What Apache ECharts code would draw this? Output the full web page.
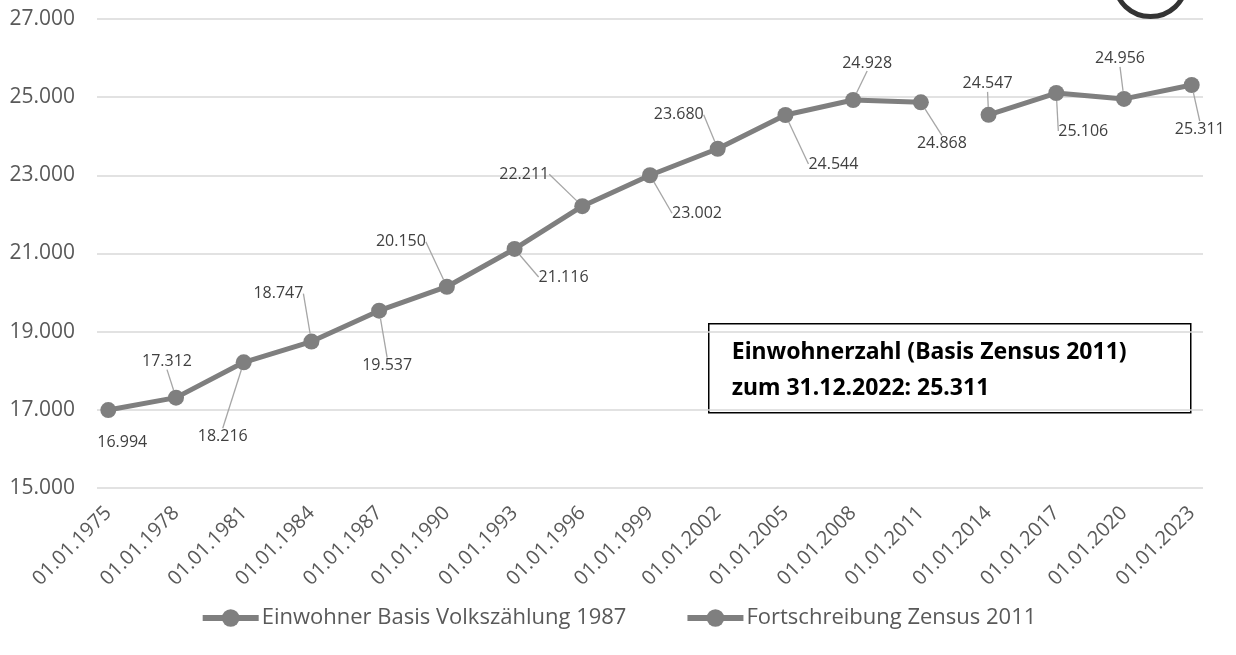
<!DOCTYPE html>
<html>
<head>
<meta charset="utf-8">
<script src="https://cdn.jsdelivr.net/npm/echarts@6/dist/echarts.min.js"></script>
<style>
	html, body { margin: 0; padding: 0; background: #fff; }
	#chart { width: 1236px; height: 655px; }
</style>
</head>
<body>
<div id="chart"></div>
<script>
	// Stichtage (jeweils 01.01.)
	var years1 = [1975, 1978, 1981, 1984, 1987, 1990, 1993, 1996, 1999, 2002, 2005, 2008, 2011];
	var years2 = [2014, 2017, 2020, 2023];
	var tickYears = [1975, 1978, 1981, 1984, 1987, 1990, 1993, 1996, 1999, 2002, 2005, 2008, 2011, 2014, 2017, 2020, 2023];

	// Einwohner
	var values1 = [16994, 17312, 18216, 18747, 19537, 20150, 21116, 22211, 23002, 23680, 24544, 24928, 24868];
	var values2 = [24547, 25106, 24956, 25311];

	var seriesNames = ['Einwohner Basis Volkszählung 1987', 'Fortschreibung Zensus 2011'];
	var boxLines = ['Einwohnerzahl (Basis Zensus 2011)', 'zum 31.12.2022: 25.311'];

	// Verschiebung der Beschriftungen (px) relativ zum Punkt
	var labelOffsets1 = [[14, 32], [-9, -36], [-21, 74], [-33, -48], [8, 55], [-46, -45], [49, 28], [-58, -32], [47, 38], [-39, -34], [48, 49], [14, -37], [21, 41]];
	var labelOffsets2 = [[-1, -31], [27, 38], [-4, -40], [8, 44]];
	// Beschriftungen ohne Führungslinie
	var noLeader1 = [0];
	var noLeader2 = [];

	var fmt = function(v) {
		return String(v).replace(/\B(?=(\d{3})+(?!\d))/g, '.');
	};
	var pairs = function(xs, ys, noLeader) {
		var out = [];
		for(var i = 0; i < xs.length; i++) {
			var item = { value: [xs[i], ys[i]] };
			if(noLeader.indexOf(i) > -1) {
				item.labelLine = { show: false };
			}
			out.push(item);
		}
		return out;
	};

	var grey = '#7f7f7f';
	var font = '"Open Sans", sans-serif';

	var lineSeries = function(name, data, offsets) {
		return {
			name: name,
			type: 'line',
			data: data,
			symbol: 'circle',
			symbolSize: 16,
			lineStyle: { color: grey, width: 5 },
			itemStyle: { color: grey },
			label: {
				show: true,
				position: 'inside',
				fontFamily: font,
				fontSize: 16,
				color: '#404040',
				formatter: function(p) { return fmt(p.value[1]); }
			},
			labelLine: {
				show: true,
				lineStyle: { color: '#a6a6a6', width: 1.3 }
			},
			labelLayout: function(p) {
				var o = offsets[p.dataIndex];
				return { dx: o[0], dy: o[1] };
			}
		};
	};

	var myChart = echarts.init(document.getElementById('chart'));

	var option = {
		animation: false,
		backgroundColor: '#fff',
		grid: { left: 97, right: 33, top: 19, bottom: 167 },
		legend: {
			top: 602,
			left: 'center',
			itemWidth: 56,
			itemHeight: 22,
			itemGap: 58,
			lineStyle: { width: 6, color: grey },
			textStyle: { fontFamily: font, fontSize: 22, color: '#595959', padding: [0, 0, 0, -2] },
			data: seriesNames
		},
		xAxis: {
			type: 'value',
			min: 1974.5,
			max: 2023.5,
			axisLine: { show: false },
			axisTick: { show: false },
			splitLine: { show: false },
			axisLabel: {
				customValues: tickYears,
				rotate: 45,
				margin: 22,
				fontFamily: font,
				fontSize: 20,
				color: '#595959',
				formatter: function(v) { return '01.01.' + v; }
			}
		},
		yAxis: {
			type: 'value',
			min: 15000,
			max: 27000,
			interval: 2000,
			axisLine: { show: false },
			axisTick: { show: false },
			splitLine: { lineStyle: { color: '#d9d9d9', width: 1.5 } },
			axisLabel: {
				margin: 22,
				fontFamily: font,
				fontSize: 21,
				color: '#595959',
				formatter: function(v) { return fmt(v); }
			}
		},
		graphic: [{
			type: 'ellipse',
			left: 1113,
			top: -52,
			shape: { cx: 35, cy: 33, rx: 35, ry: 33 },
			style: { fill: 'none', stroke: '#333', lineWidth: 5 },
			z: 10
		}, {
			type: 'group',
			left: 708,
			top: 323,
			z: 20,
			children: [{
				type: 'rect',
				shape: { x: 0, y: 0, width: 482, height: 89 },
				style: { fill: '#fff', stroke: '#000', lineWidth: 1.5 }
			}, {
				type: 'text',
				x: 23,
				y: 11,
				style: {
					text: boxLines.join('\n'),
					fontFamily: '"Noto Sans", sans-serif',
					fontWeight: 'bold',
					fontSize: 23,
					lineHeight: 36,
					fill: '#000'
				}
			}]
		}],
		series: [
			lineSeries(seriesNames[0], pairs(years1, values1, noLeader1), labelOffsets1),
			lineSeries(seriesNames[1], pairs(years2, values2, noLeader2), labelOffsets2)
		]
	};

	myChart.setOption(option);
</script>
</body>
</html>
